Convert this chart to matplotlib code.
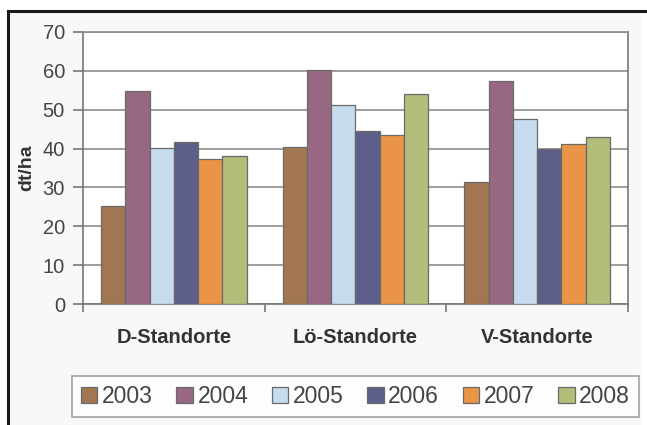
import matplotlib.pyplot as plt
import matplotlib.patches as mpatches
from matplotlib.lines import Line2D
import numpy as np

plt.rcParams['font.family'] = ['Liberation Sans', 'DejaVu Sans']

# Ertrag je Standortgruppe und Jahr (dt/ha)
standorte = ['D-Standorte', 'Lö-Standorte', 'V-Standorte']
jahre = ['2003', '2004', '2005', '2006', '2007', '2008']
ertrag = {
    '2003': [25.3, 40.4, 31.5],
    '2004': [54.7, 60.2, 57.3],
    '2005': [40.2, 51.2, 47.5],
    '2006': [41.8, 44.4, 40.0],
    '2007': [37.2, 43.6, 41.2],
    '2008': [38.0, 54.0, 43.0],
}
farben = ['#a27650', '#986882', '#c6dbed', '#5e5e8a', '#e99446', '#b1bd78']

fig = plt.figure(figsize=(6.47, 4.25), dpi=100, facecolor='white')

# hellgrauer Hintergrund mit schwarzem Rahmen oben/links
fig.patches.append(mpatches.Rectangle((0.0139, 0.0), 0.977, 0.972, transform=fig.transFigure,
                                      facecolor='#f8f8f8', edgecolor='none', zorder=-5))
fig.lines.append(Line2D([0.0124, 1.0], [0.974, 0.974], transform=fig.transFigure,
                        color='#1a1a1a', lw=2.2))
fig.lines.append(Line2D([0.0124, 0.0124], [0.0, 0.974], transform=fig.transFigure,
                        color='#1a1a1a', lw=2.2))

ax = fig.add_axes([0.1283, 0.284, 0.8423, 0.6414])
ax.set_zorder(2)
ax.set_facecolor('white')

n = len(jahre)
gap = 1.5
w = 1.0 / (n + gap)
x = np.arange(len(standorte))
for i, (j, c) in enumerate(zip(jahre, farben)):
    pos = x - 0.5 + w * gap / 2 + w * (i + 0.5)
    ax.bar(pos, ertrag[j], width=w, color=c, edgecolor='#6a6a6a', linewidth=0.9,
           label=j, zorder=3)

ax.set_xlim(-0.5, len(standorte) - 0.5)
ax.set_ylim(0, 70)
ax.set_yticks(range(0, 71, 10))
ax.yaxis.grid(True, color='#8c8c8c', lw=1.2, zorder=1)

ax.set_xticks(np.arange(-0.5, len(standorte), 1.0))
ax.set_xticklabels([])
ax.set_xticks(x, minor=True)
ax.set_xticklabels(standorte, minor=True, fontsize=14.5, fontweight='bold', color='#333333')
ax.tick_params(axis='x', which='minor', length=0, pad=17)
ax.tick_params(axis='x', which='major', length=6, color='#777777', width=1.2)
ax.tick_params(axis='y', length=7, color='#777777', width=1.2, labelsize=14.5,
               labelcolor='#444444', pad=6)

for s in ['top']:
    ax.spines[s].set_color('#8c8c8c')
    ax.spines[s].set_linewidth(1.2)
for s in ['left', 'bottom', 'right']:
    ax.spines[s].set_color('#777777')
    ax.spines[s].set_linewidth(1.2)

ax.set_ylabel('dt/ha', fontsize=14, fontweight='bold', color='#333333', labelpad=5)

handles, labels = ax.get_legend_handles_labels()
leg = fig.legend(handles, labels, loc='lower left', bbox_to_anchor=(0.111, 0.019, 0.877, 0.087),
                 mode='expand', ncol=6, fontsize=16.5, frameon=True, fancybox=False,
                 handlelength=0.72, handleheight=0.72, handletextpad=0.2,
                 borderaxespad=0, labelcolor='#444444')
leg.get_frame().set_edgecolor('#8c8c8c')
leg.get_frame().set_linewidth(1.2)
leg.get_frame().set_facecolor('white')

fig.savefig('out.png', dpi=100, facecolor=fig.get_facecolor())
